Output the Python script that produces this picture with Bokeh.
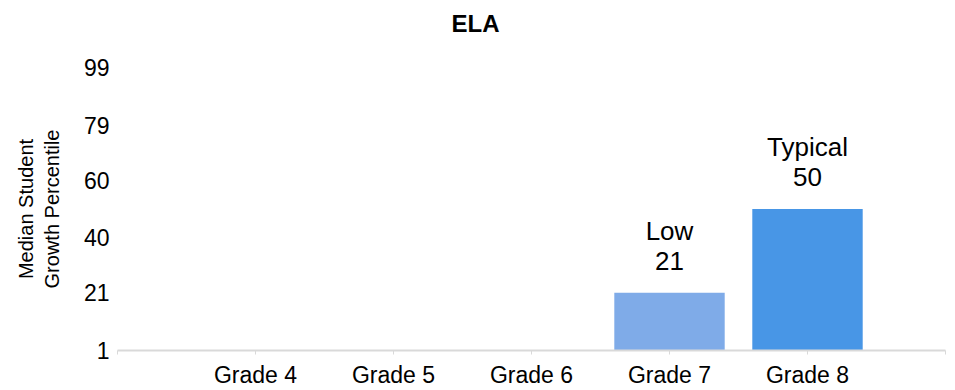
from bokeh.plotting import figure
from bokeh.models import Range1d, FixedTicker, ColumnDataSource, Title
from bokeh.core.properties import value
from bokeh.embed import file_html
from bokeh.resources import INLINE

# ---- data ----
title_text = "ELA"
grades = ["Grade 4", "Grade 5", "Grade 6", "Grade 7", "Grade 8"]
sgp = [None, None, None, 21, 50]
ratings = ["", "", "", "Low", "Typical"]
bar_colors = ["#7fabe8", "#7fabe8", "#7fabe8", "#7fabe8", "#4896e6"]
y_ticks = [1, 21, 40, 60, 79, 99]

FONT = "Liberation Sans"
W, H = 955, 390
ML, MR, MT, MB = 117, 10, 67, 38

xs, tops, labels, cols = [], [], [], []
for i, (g, v, r, c) in enumerate(zip(grades, sgp, ratings, bar_colors)):
    if v is None:
        continue
    xs.append(i + 1)
    tops.append(v)
    labels.append(f"{r}\n{v}")
    cols.append(c)
src = ColumnDataSource(dict(x=xs, top=tops, label=labels, color=cols))

p = figure(width=W, height=H, output_backend="svg", toolbar_location=None,
           x_range=Range1d(0, len(grades) + 1), y_range=Range1d(y_ticks[0], y_ticks[-1]),
           min_border_left=ML, min_border_right=MR, min_border_top=MT, min_border_bottom=MB)

p.vbar(x="x", top="top", bottom=y_ticks[0], width=0.8, color="color", line_color=None, source=src)
p.text(x="x", y="top", text="label", source=src, text_align="center", text_baseline="bottom",
       y_offset=-17, text_font=value(FONT), text_font_size="26px", text_color="#000000",
       text_line_height=1.0)

p.title.text = title_text
p.title.text_font = FONT
p.title.text_font_size = "24px"
p.title.text_font_style = "bold"
p.title.text_color = "#000000"
p.title.align = "left"
p.title.offset = 334

p.add_layout(Title(text=" ", text_font_size="12px"), "above")

p.outline_line_color = None
p.xgrid.grid_line_color = None
p.ygrid.grid_line_color = None

xa = p.xaxis[0]
xa.ticker = FixedTicker(ticks=list(range(0, len(grades) + 2)))
ov = {0: "", len(grades) + 1: ""}
for i, g in enumerate(grades):
    ov[i + 1] = g
xa.major_label_overrides = ov
xa.axis_line_color = "#d9d9d9"
xa.axis_line_width = 2
xa.major_tick_line_color = "#d9d9d9"
xa.major_tick_out = 4
xa.major_tick_in = 0
xa.minor_tick_line_color = None
xa.major_label_standoff = 7
xa.major_label_text_font = FONT
xa.major_label_text_font_size = "23px"
xa.major_label_text_color = "#000000"

ya = p.yaxis[0]
ya.ticker = FixedTicker(ticks=y_ticks)
ya.axis_line_color = None
ya.major_tick_line_color = None
ya.minor_tick_line_color = None
ya.major_label_standoff = 2
ya.major_label_text_font = FONT
ya.major_label_text_font_size = "23px"
ya.major_label_text_color = "#000000"
ya.axis_label = "Median Student\nGrowth Percentile"
ya.axis_label_text_font = FONT
ya.axis_label_text_font_size = "20px"
ya.axis_label_text_font_style = "normal"
ya.axis_label_text_color = "#000000"
ya.axis_label_standoff = 18

open("out.html", "w").write(file_html(p, INLINE))
